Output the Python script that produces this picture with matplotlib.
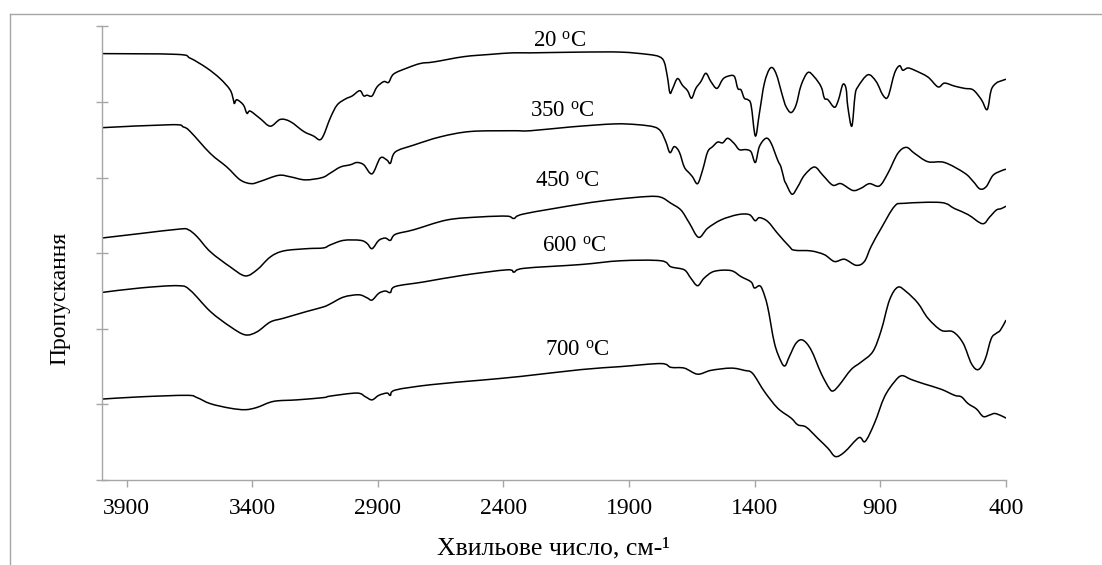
import matplotlib
matplotlib.use("Agg")
import numpy as np
import matplotlib.pyplot as plt
from matplotlib.lines import Line2D
from matplotlib.path import Path
from matplotlib.patches import PathPatch

plt.rcParams['font.family'] = ['Liberation Serif', 'DejaVu Serif']
plt.rcParams['mathtext.fontset'] = 'custom'
plt.rcParams['mathtext.rm'] = 'Liberation Serif'
plt.rcParams['mathtext.it'] = 'Liberation Serif:italic'

# ---- data: wavenumber (cm-1) and offset transmittance (arb. units) ----
w20 = [4000, 3700, 3647, 3581, 3528, 3488, 3475, 3471, 3461, 3435, 3421, 3408, 3368, 3328, 3288, 3248,
       3195, 3156, 3132, 3116, 3089, 3062, 3029, 3002, 2972, 2956, 2943, 2923, 2903, 2876, 2857, 2837,
       2783, 2730, 2677, 2557, 2451, 2365, 2292, 2092, 1933, 1826, 1780, 1760, 1747, 1737, 1726, 1707,
       1687, 1667, 1651, 1634, 1614, 1594, 1574, 1550, 1527, 1507, 1481, 1467, 1454, 1441, 1427, 1414,
       1397, 1381, 1361, 1337, 1315, 1288, 1275, 1255, 1235, 1215, 1188, 1162, 1135, 1122, 1108, 1082,
       1066, 1049, 1036, 1029, 1013, 1000, 989, 949, 916, 889, 869, 843, 823, 810, 790, 763, 710, 670,
       644, 604, 564, 530, 497, 474, 458, 438, 418, 400]
t20 = [5.64, 5.63, 5.58, 5.45, 5.31, 5.16, 5.03, 4.98, 5.03, 4.96, 4.85, 4.88, 4.78, 4.68, 4.77, 4.74,
       4.61, 4.55, 4.50, 4.56, 4.79, 4.96, 5.04, 5.08, 5.15, 5.08, 5.09, 5.08, 5.20, 5.27, 5.26, 5.37,
       5.45, 5.51, 5.53, 5.60, 5.63, 5.65, 5.65, 5.66, 5.66, 5.63, 5.60, 5.53, 5.33, 5.12, 5.18, 5.31,
       5.22, 5.15, 5.05, 5.18, 5.27, 5.38, 5.27, 5.18, 5.30, 5.34, 5.34, 5.18, 5.16, 5.05, 5.03, 4.96,
       4.55, 4.85, 5.25, 5.45, 5.38, 5.07, 4.94, 4.86, 4.96, 5.22, 5.39, 5.33, 5.20, 5.05, 5.03, 4.93,
       5.03, 5.23, 5.18, 4.94, 4.68, 5.09, 5.20, 5.36, 5.27, 5.09, 5.07, 5.38, 5.48, 5.42, 5.45, 5.42,
       5.33, 5.20, 5.25, 5.21, 5.18, 5.16, 5.03, 4.90, 5.16, 5.25, 5.28, 5.30]

w350 = [4000, 3720, 3674, 3647, 3567, 3501, 3448, 3404, 3368, 3295, 3248, 3189, 3122, 3089, 3049, 3009,
        2983, 2956, 2923, 2890, 2863, 2850, 2830, 2757, 2650, 2531, 2365, 2292, 2132, 1959, 1866, 1800,
        1773, 1753, 1737, 1720, 1700, 1680, 1660, 1647, 1627, 1607, 1587, 1567, 1547, 1527, 1507, 1481,
        1461, 1434, 1414, 1397, 1381, 1355, 1335, 1308, 1295, 1282, 1275, 1251, 1228, 1202, 1162, 1128,
        1089, 1056, 1009, 976, 943, 903, 869, 830, 796, 763, 710, 644, 564, 530, 503, 478, 451, 418, 400]
t350 = [4.66, 4.70, 4.67, 4.61, 4.32, 4.14, 3.97, 3.92, 3.95, 4.03, 4.01, 3.97, 4.00, 4.06, 4.14, 4.17,
        4.20, 4.17, 4.05, 4.26, 4.23, 4.19, 4.34, 4.43, 4.54, 4.61, 4.62, 4.62, 4.67, 4.71, 4.70, 4.67,
        4.61, 4.47, 4.33, 4.41, 4.34, 4.14, 4.06, 4.01, 3.92, 4.10, 4.34, 4.41, 4.47, 4.46, 4.52, 4.45,
        4.37, 4.37, 4.34, 4.20, 4.41, 4.52, 4.46, 4.23, 4.14, 3.97, 3.92, 3.78, 3.88, 4.03, 4.14, 4.03,
        3.90, 3.92, 3.83, 3.86, 3.92, 3.89, 4.06, 4.32, 4.40, 4.32, 4.21, 4.20, 4.06, 3.95, 3.85, 3.88,
        4.03, 4.09, 4.11]

w450 = [4000, 3846, 3687, 3654, 3620, 3567, 3488, 3428, 3381, 3328, 3275, 3182, 3116, 3089, 3036, 2969,
        2943, 2923, 2896, 2870, 2850, 2830, 2757, 2624, 2491, 2385, 2358, 2318, 2092, 1959, 1826, 1773,
        1733, 1693, 1660, 1623, 1587, 1534, 1467, 1421, 1398, 1381, 1348, 1308, 1262, 1242, 1175, 1122,
        1082, 1042, 996, 963, 936, 896, 843, 803, 657, 604, 550, 493, 464, 438, 418, 400]
t450 = [3.20, 3.26, 3.32, 3.31, 3.22, 3.02, 2.82, 2.70, 2.78, 2.95, 3.03, 3.06, 3.07, 3.11, 3.17, 3.17,
        3.13, 3.06, 3.17, 3.20, 3.17, 3.25, 3.31, 3.44, 3.48, 3.49, 3.46, 3.52, 3.65, 3.71, 3.75, 3.74,
        3.66, 3.57, 3.40, 3.21, 3.33, 3.44, 3.51, 3.51, 3.43, 3.47, 3.42, 3.26, 3.09, 3.04, 3.03, 2.98,
        2.89, 2.92, 2.84, 2.89, 3.09, 3.33, 3.62, 3.66, 3.67, 3.59, 3.51, 3.39, 3.48, 3.57, 3.59, 3.62]

w600 = [4000, 3846, 3694, 3647, 3567, 3488, 3428, 3381, 3328, 3275, 3182, 3116, 3089, 3036, 2976, 2943,
        2923, 2896, 2870, 2850, 2830, 2717, 2557, 2385, 2358, 2318, 2092, 1933, 1773, 1733, 1680, 1654,
        1627, 1601, 1561, 1494, 1454, 1414, 1401, 1381, 1368, 1348, 1321, 1295, 1279, 1262, 1235, 1208,
        1175, 1135, 1102, 1086, 1062, 1016, 976, 929, 896, 863, 830, 796, 750, 710, 657, 610, 570, 537,
        510, 483, 458, 438, 422, 400]
t600 = [2.48, 2.54, 2.57, 2.51, 2.23, 2.03, 1.92, 1.96, 2.09, 2.14, 2.23, 2.29, 2.33, 2.42, 2.45, 2.41,
        2.38, 2.47, 2.50, 2.48, 2.56, 2.62, 2.71, 2.78, 2.75, 2.80, 2.85, 2.90, 2.90, 2.82, 2.78, 2.67,
        2.57, 2.67, 2.76, 2.77, 2.69, 2.62, 2.54, 2.57, 2.51, 2.29, 1.81, 1.57, 1.51, 1.63, 1.81, 1.85,
        1.72, 1.41, 1.21, 1.18, 1.26, 1.46, 1.56, 1.70, 1.98, 2.38, 2.55, 2.49, 2.34, 2.14, 1.98, 1.96,
        1.81, 1.54, 1.46, 1.59, 1.87, 1.94, 1.98, 2.11]

w700 = [4000, 3846, 3660, 3620, 3567, 3488, 3428, 3381, 3315, 3222, 3116, 3089, 2983, 2949, 2923, 2896,
        2863, 2850, 2830, 2690, 2491, 2331, 2092, 1933, 1773, 1733, 1680, 1627, 1574, 1494, 1441, 1408,
        1361, 1308, 1255, 1228, 1195, 1148, 1108, 1078, 1042, 985, 960, 923, 883, 843, 814, 777, 724,
        657, 604, 577, 550, 517, 490, 464, 444, 418, 400]
t700 = [1.07, 1.10, 1.12, 1.09, 1.01, 0.95, 0.93, 0.96, 1.04, 1.06, 1.09, 1.11, 1.15, 1.10, 1.06, 1.12,
        1.15, 1.12, 1.19, 1.26, 1.32, 1.37, 1.46, 1.50, 1.54, 1.49, 1.48, 1.40, 1.45, 1.48, 1.45, 1.41,
        1.17, 0.95, 0.82, 0.73, 0.70, 0.55, 0.42, 0.31, 0.37, 0.56, 0.51, 0.75, 1.10, 1.30, 1.38, 1.33,
        1.27, 1.20, 1.12, 1.10, 1.01, 0.94, 0.84, 0.86, 0.88, 0.85, 0.82]

series = [(w20, t20), (w350, t350), (w450, t450), (w600, t600), (w700, t700)]

labels = ["20", "350", "450", "600", "700"]
label_x = [2176, 2164, 2144, 2116, 2104]
label_y = [5.73, 4.81, 3.88, 3.02, 1.64]

x_ticks = [3900, 3400, 2900, 2400, 1900, 1400, 900, 400]
y_ticks = [0, 1, 2, 3, 4, 5, 6]


def smooth_path(xs, ys):
    """Smoothed-line rendering (Catmull-Rom as cubic Bezier) through the data points."""
    p = np.column_stack([xs, ys]).astype(float)
    n = len(p)
    verts = [p[0]]
    codes = [Path.MOVETO]
    for i in range(n - 1):
        p0 = p[i - 1] if i > 0 else p[i]
        p1, p2 = p[i], p[i + 1]
        p3 = p[i + 2] if i + 2 < n else p[i + 1]
        c1 = p1 + (p2 - p0) / 6.0
        c2 = p2 - (p3 - p1) / 6.0
        verts += [c1, c2, p2]
        codes += [Path.CURVE4] * 3
    return Path(np.array(verts), codes)


# ---- figure ----
W, H = 1102, 565
fig = plt.figure(figsize=(W / 100, H / 100), dpi=100)
ax = fig.add_axes([101.5 / W, 1 - 480 / H, (1005.8 - 101.5) / W, (480 - 26.4) / H])

grey = '#a6a6a6'
for w, t in series:
    ax.add_patch(PathPatch(smooth_path(w, t), fill=False, edgecolor='black', lw=1.1,
                           joinstyle='round', capstyle='round'))

for lab, lx, ly in zip(labels, label_x, label_y):
    ax.text(lx, ly, lab + r" $^{\mathrm{o}}$C", ha='center', va='baseline', fontsize=16.5)

ax.set_xlim(4000, 400)
ax.set_ylim(0, 6)
ax.set_xticks(x_ticks)
ax.set_xticklabels([str(v) for v in x_ticks], fontsize=17)
ax.set_yticks(y_ticks)
ax.set_yticklabels([])
ax.tick_params(axis='x', direction='out', length=5, width=1, color=grey, pad=8)
ax.tick_params(axis='y', direction='inout', length=9, width=1, color=grey)

for s in ('top', 'right'):
    ax.spines[s].set_visible(False)
for s in ('left', 'bottom'):
    ax.spines[s].set_color(grey)
    ax.spines[s].set_linewidth(1)

fig.text(553 / W, 1 - 554 / H, "Хвильове число, см-¹", ha='center', va='baseline', fontsize=18.5)
fig.text(60 / W, 1 - 298 / H, "Пропускання", ha='center', va='center', rotation=90, fontsize=17)

# chart-area border (left and top visible)
bx, by = 9.5 / W, 1 - 14 / H
fig.add_artist(Line2D([bx, bx], [0, by], transform=fig.transFigure, color=grey, lw=1))
fig.add_artist(Line2D([bx, 1], [by, by], transform=fig.transFigure, color=grey, lw=1))

fig.savefig("out.png", dpi=100)
